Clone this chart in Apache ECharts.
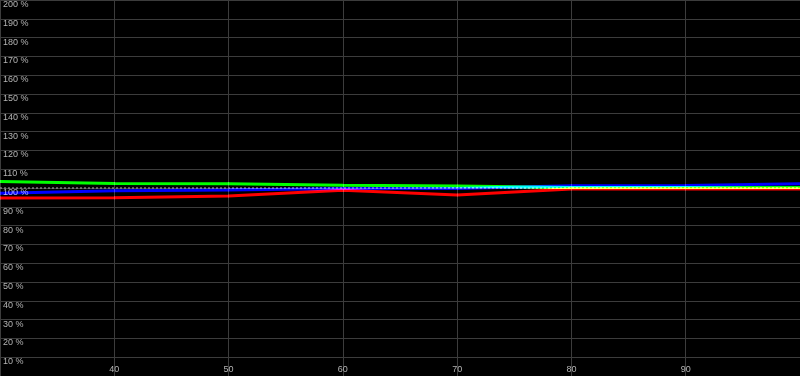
<!DOCTYPE html>
<html>
<head>
<meta charset="utf-8">
<script src="https://cdn.jsdelivr.net/npm/echarts@6/dist/echarts.min.js"></script>
<style>
html,body{margin:0;padding:0;background:#000;}
#chart{width:800px;height:376px;}
</style>
</head>
<body>
<div id="chart"></div>
<script>
// Data (x = stimulus level, y = percent)
const xValues = [30, 40, 50, 60, 70, 80, 90, 100];
const redValues = [94.7, 94.8, 95.8, 98.8, 96.3, 99.5, 99.5, 99.5];
const greenValues = [103.4, 102.4, 102.3, 101.4, 101.1, 100.3, 100.3, 100.3];
const blueValues = [97.2, 98.6, 98.9, 99.7, 99.8, 101.2, 101.3, 102.2];
const referenceValue = 100;
const xTickLabels = [40, 50, 60, 70, 80, 90];
const yTickSuffix = ' %';

const pairs = vals => xValues.map((x, i) => [x, vals[i]]);

const chart = echarts.init(document.getElementById('chart'), null, {renderer: 'canvas'});
const labelFont = {color: '#b4b4b4', fontSize: 9, fontFamily: 'Liberation Sans, Arial, sans-serif'};

chart.setOption({
  backgroundColor: '#000000',
  animation: false,
  grid: {left: 0, right: 0, top: 0, bottom: 0, containLabel: false},
  xAxis: {
    type: 'value', min: 30, max: 100, interval: 10,
    axisLine: {show: false}, axisTick: {show: false},
    splitLine: {show: true, lineStyle: {color: '#3c3c3c', width: 1}},
    axisLabel: Object.assign({
      inside: true, margin: 2, showMinLabel: false, showMaxLabel: false,
      formatter: v => xTickLabels.includes(v) ? String(v) : ''
    }, labelFont)
  },
  yAxis: {
    type: 'value', min: 0, max: 200, interval: 10,
    axisLine: {show: false}, axisTick: {show: false},
    splitLine: {show: true, lineStyle: {color: '#3c3c3c', width: 1}},
    axisLabel: Object.assign({
      inside: true, margin: 3, verticalAlign: 'top', showMinLabel: false,
      formatter: v => v === 0 ? '' : v + yTickSuffix
    }, labelFont)
  },
  series: [
    {
      name: 'ref', type: 'line', data: [[30, referenceValue], [100, referenceValue]],
      symbol: 'none', silent: true, z: 1,
      lineStyle: {color: '#b0b0b0', width: 1, type: [2, 2]}
    },
    {
      name: 'Green', type: 'line', data: pairs(greenValues), symbol: 'none', z: 2,
      blendMode: 'lighter', lineStyle: {color: '#00ff00', width: 3}
    },
    {
      name: 'Blue', type: 'line', data: pairs(blueValues), symbol: 'none', z: 2,
      blendMode: 'lighter', lineStyle: {color: '#0000ff', width: 3}
    },
    {
      name: 'Red', type: 'line', data: pairs(redValues), symbol: 'none', z: 2,
      blendMode: 'lighter', lineStyle: {color: '#ff0000', width: 3}
    }
  ]
});
</script>
</body>
</html>
